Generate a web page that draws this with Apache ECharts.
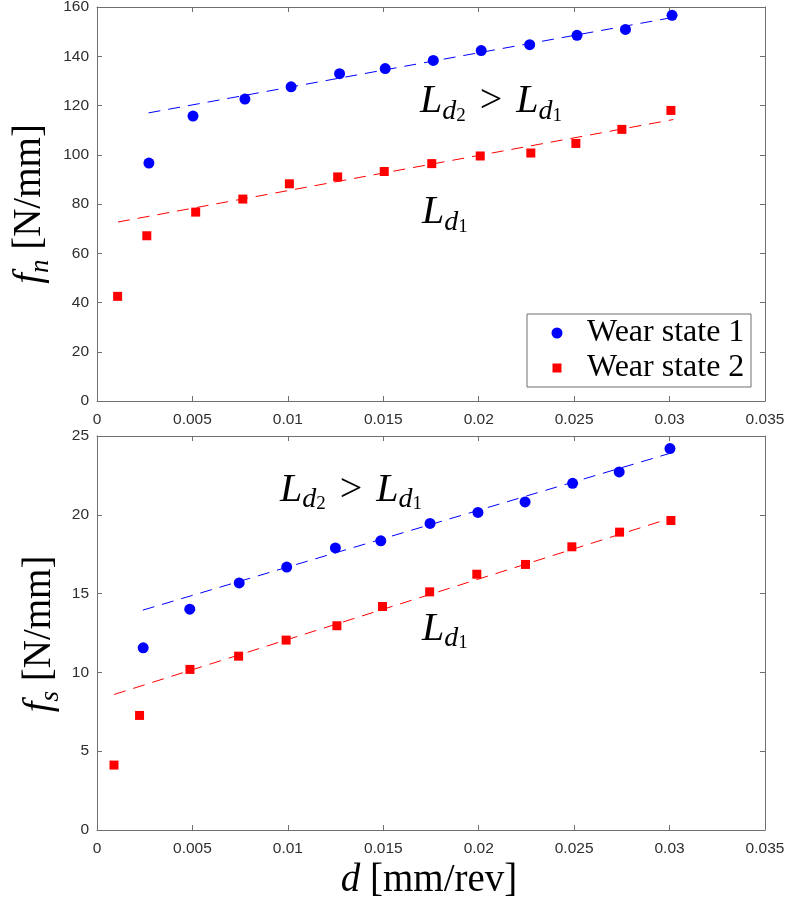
<!DOCTYPE html>
<html>
<head>
<meta charset="utf-8">
<script src="https://cdn.jsdelivr.net/npm/echarts@6/dist/echarts.min.js"></script>
<style>html,body{margin:0;padding:0;background:#fff}#c{width:787px;height:906px}</style>
</head>
<body>
<div id="c"></div>
<script>
// ---- tick values ----
const xTicks = [0, 0.005, 0.01, 0.015, 0.02, 0.025, 0.03, 0.035];
const fnTicks = [0, 20, 40, 60, 80, 100, 120, 140, 160];
const fsTicks = [0, 5, 10, 15, 20, 25];

// ---- series names ----
const seriesNames = ['Wear state 1', 'Wear state 2'];

// ---- top panel: f_n [N/mm] ----
const fnWear1D = [0.00272, 0.00503, 0.00775, 0.01017, 0.01271, 0.0151, 0.01762, 0.02013, 0.02267, 0.02515, 0.02769, 0.03013];
const fnWear1  = [96.6, 115.7, 122.6, 127.6, 132.9, 135.0, 138.3, 142.3, 144.7, 148.5, 150.9, 156.6];
const fnWear2D = [0.00108, 0.00261, 0.00517, 0.00764, 0.01008, 0.01261, 0.01505, 0.01754, 0.02008, 0.02273, 0.02509, 0.0275, 0.03007];
const fnWear2  = [42.5, 67.1, 76.7, 82.0, 88.2, 91.0, 93.2, 96.4, 99.5, 100.7, 104.6, 110.3, 118.0];
const fnFit1D = [0.0027, 0.0302];
const fnFit1  = [117.0, 155.8];
const fnFit2D = [0.0011, 0.0302];
const fnFit2  = [72.7, 114.3];

// ---- bottom panel: f_s [N/mm] ----
const fsWear1D = [0.00242, 0.00486, 0.00745, 0.00994, 0.01249, 0.01487, 0.01745, 0.01996, 0.02243, 0.02492, 0.02736, 0.03002];
const fsWear1  = [11.56, 14.01, 15.68, 16.68, 17.9, 18.35, 19.45, 20.15, 20.82, 22.0, 22.72, 24.2];
const fsWear2D = [0.00089, 0.00223, 0.00487, 0.00742, 0.00991, 0.01257, 0.01496, 0.01743, 0.0199, 0.02245, 0.02488, 0.02738, 0.03007];
const fsWear2  = [4.12, 7.27, 10.19, 11.03, 12.05, 12.96, 14.18, 15.11, 16.23, 16.85, 17.97, 18.9, 19.64];
const fsFit1D = [0.0024, 0.0301];
const fsFit1  = [13.95, 23.93];
const fsFit2D = [0.0009, 0.0301];
const fsFit2  = [8.6, 19.8];

const zip = (a, b) => a.map((v, i) => [v, b[i]]);

const axisColor = '#6f6f6f';
const labelColor = '#2e2e2e';
const sans = 'Liberation Sans';
const serif = 'Liberation Serif';

function xAxis(grid, pos, showLabel) {
  return {
    type: 'value', gridIndex: grid, position: pos,
    min: xTicks[0], max: xTicks[xTicks.length - 1], interval: xTicks[1] - xTicks[0],
    axisLine: {show: true, onZero: false, lineStyle: {color: axisColor, width: 1}},
    axisTick: {show: true, inside: true, length: 5, lineStyle: {color: axisColor, width: 1}},
    axisLabel: {show: showLabel, margin: 11, fontFamily: sans, fontSize: 15.5, color: labelColor,
      showMinLabel: true, showMaxLabel: true,
      formatter: v => String(parseFloat(Number(v).toFixed(4)))},
    splitLine: {show: false}
  };
}
function yAxis(grid, pos, ticks, showLabel) {
  return {
    type: 'value', gridIndex: grid, position: pos,
    min: ticks[0], max: ticks[ticks.length - 1], interval: ticks[1] - ticks[0],
    axisLine: {show: true, onZero: false, lineStyle: {color: axisColor, width: 1}},
    axisTick: {show: true, inside: true, length: 5, lineStyle: {color: axisColor, width: 1}},
    axisLabel: {show: showLabel, margin: 8, fontFamily: sans, fontSize: 15.5, color: labelColor,
      showMinLabel: true, showMaxLabel: true},
    splitLine: {show: false}
  };
}

function scatter(name, xi, yi, data, symbol, size, color) {
  return {
    type: 'scatter', name: name, xAxisIndex: xi, yAxisIndex: yi, data: data,
    symbol: symbol, symbolSize: size, z: 3, silent: true,
    itemStyle: {color: color, opacity: 1, borderWidth: 0}
  };
}
function fitLine(xi, yi, data, color) {
  return {
    type: 'line', xAxisIndex: xi, yAxisIndex: yi, data: data,
    showSymbol: false, symbol: 'none', z: 2, silent: true,
    lineStyle: {color: color, width: 1, type: [12, 8]}
  };
}

const mathRich = {
  L: {fontFamily: serif, fontStyle: 'italic', fontSize: 40, lineHeight: 48, fill: '#000'},
  s: {fontFamily: serif, fontStyle: 'italic', fontSize: 28, lineHeight: 28, verticalAlign: 'bottom', fill: '#000'},
  ss: {fontFamily: serif, fontSize: 19, lineHeight: 13, verticalAlign: 'bottom', fill: '#000'},
  op: {fontFamily: serif, fontSize: 40, lineHeight: 48, padding: [0, 14, 0, 14], fill: '#000'}
};
const axRich = {
  L: {fontFamily: serif, fontStyle: 'italic', fontSize: 39, lineHeight: 48, fill: '#000'},
  s: {fontFamily: serif, fontStyle: 'italic', fontSize: 27, lineHeight: 28, verticalAlign: 'bottom', fill: '#000'},
  r: {fontFamily: serif, fontSize: 39, lineHeight: 48, fill: '#000'}
};
const ldText = '{L|L}{s|d}{ss|2}{op|>}{L|L}{s|d}{ss|1}';
const ld1Text = '{L|L}{s|d}{ss|1}';

function mathText(x, y, text, rich, rot, align, va) {
  return {
    type: 'text', x: x, y: y, rotation: rot || 0, z: 30, silent: true,
    style: {text: text, rich: rich, align: align || 'left', verticalAlign: va || 'top', fill: '#000'}
  };
}

const chart = echarts.init(document.getElementById('c'), null, {renderer: 'canvas'});
chart.setOption({
  animation: false,
  backgroundColor: '#fff',
  grid: [
    {left: 97, top: 7, width: 668, height: 394, containLabel: false, outerBoundsMode: 'none', show: false},
    {left: 97, top: 436, width: 668, height: 394, containLabel: false, outerBoundsMode: 'none', show: false}
  ],
  xAxis: [xAxis(0, 'bottom', true), xAxis(0, 'top', false), xAxis(1, 'bottom', true), xAxis(1, 'top', false)],
  yAxis: [yAxis(0, 'left', fnTicks, true), yAxis(0, 'right', fnTicks, false),
          yAxis(1, 'left', fsTicks, true), yAxis(1, 'right', fsTicks, false)],
  legend: [
    {left: 551.5, top: 316, padding: 0, itemWidth: 11, itemHeight: 11, z: 40, selectedMode: false,
     data: [{name: seriesNames[0], icon: 'circle'}],
     itemStyle: {borderWidth: 0},
     textStyle: {fontFamily: serif, fontSize: 32, lineHeight: 34, color: '#000', padding: [0, 0, 0, 19.5]}},
    {left: 552.5, top: 351, padding: 0, itemWidth: 9, itemHeight: 9, z: 40, selectedMode: false,
     data: [{name: seriesNames[1], icon: 'rect'}],
     itemStyle: {borderWidth: 0},
     textStyle: {fontFamily: serif, fontSize: 32, lineHeight: 34, color: '#000', padding: [0, 0, 0, 20.5]}}
  ],
  graphic: [
    {type: 'rect', z: 20, silent: true, shape: {x: 527, y: 314, width: 224, height: 73},
     style: {fill: '#fff', stroke: axisColor, lineWidth: 1}},
    mathText(420, 77.5, ldText, mathRich),
    mathText(422, 188.5, ld1Text, mathRich),
    mathText(280, 466, ldText, mathRich),
    mathText(422, 605, ld1Text, mathRich),
    mathText(30, 204, '{L|f}{s|n}{r| [N/mm]}', axRich, Math.PI / 2, 'center', 'middle'),
    mathText(40, 634, '{L|f}{s|s}{r| [N/mm]}', axRich, Math.PI / 2, 'center', 'middle'),
    mathText(429, 881, '{L|d}{r| [mm/rev]}', axRich, 0, 'center', 'middle')
  ],
  series: [
    fitLine(0, 0, zip(fnFit1D, fnFit1), '#0000ff'),
    fitLine(0, 0, zip(fnFit2D, fnFit2), '#ff0000'),
    scatter(seriesNames[0], 0, 0, zip(fnWear1D, fnWear1), 'circle', 11, '#0000ff'),
    scatter(seriesNames[1], 0, 0, zip(fnWear2D, fnWear2), 'rect', 9, '#ff0000'),
    fitLine(2, 2, zip(fsFit1D, fsFit1), '#0000ff'),
    fitLine(2, 2, zip(fsFit2D, fsFit2), '#ff0000'),
    scatter(seriesNames[0], 2, 2, zip(fsWear1D, fsWear1), 'circle', 11, '#0000ff'),
    scatter(seriesNames[1], 2, 2, zip(fsWear2D, fsWear2), 'rect', 9, '#ff0000')
  ]
});
</script>
</body>
</html>
